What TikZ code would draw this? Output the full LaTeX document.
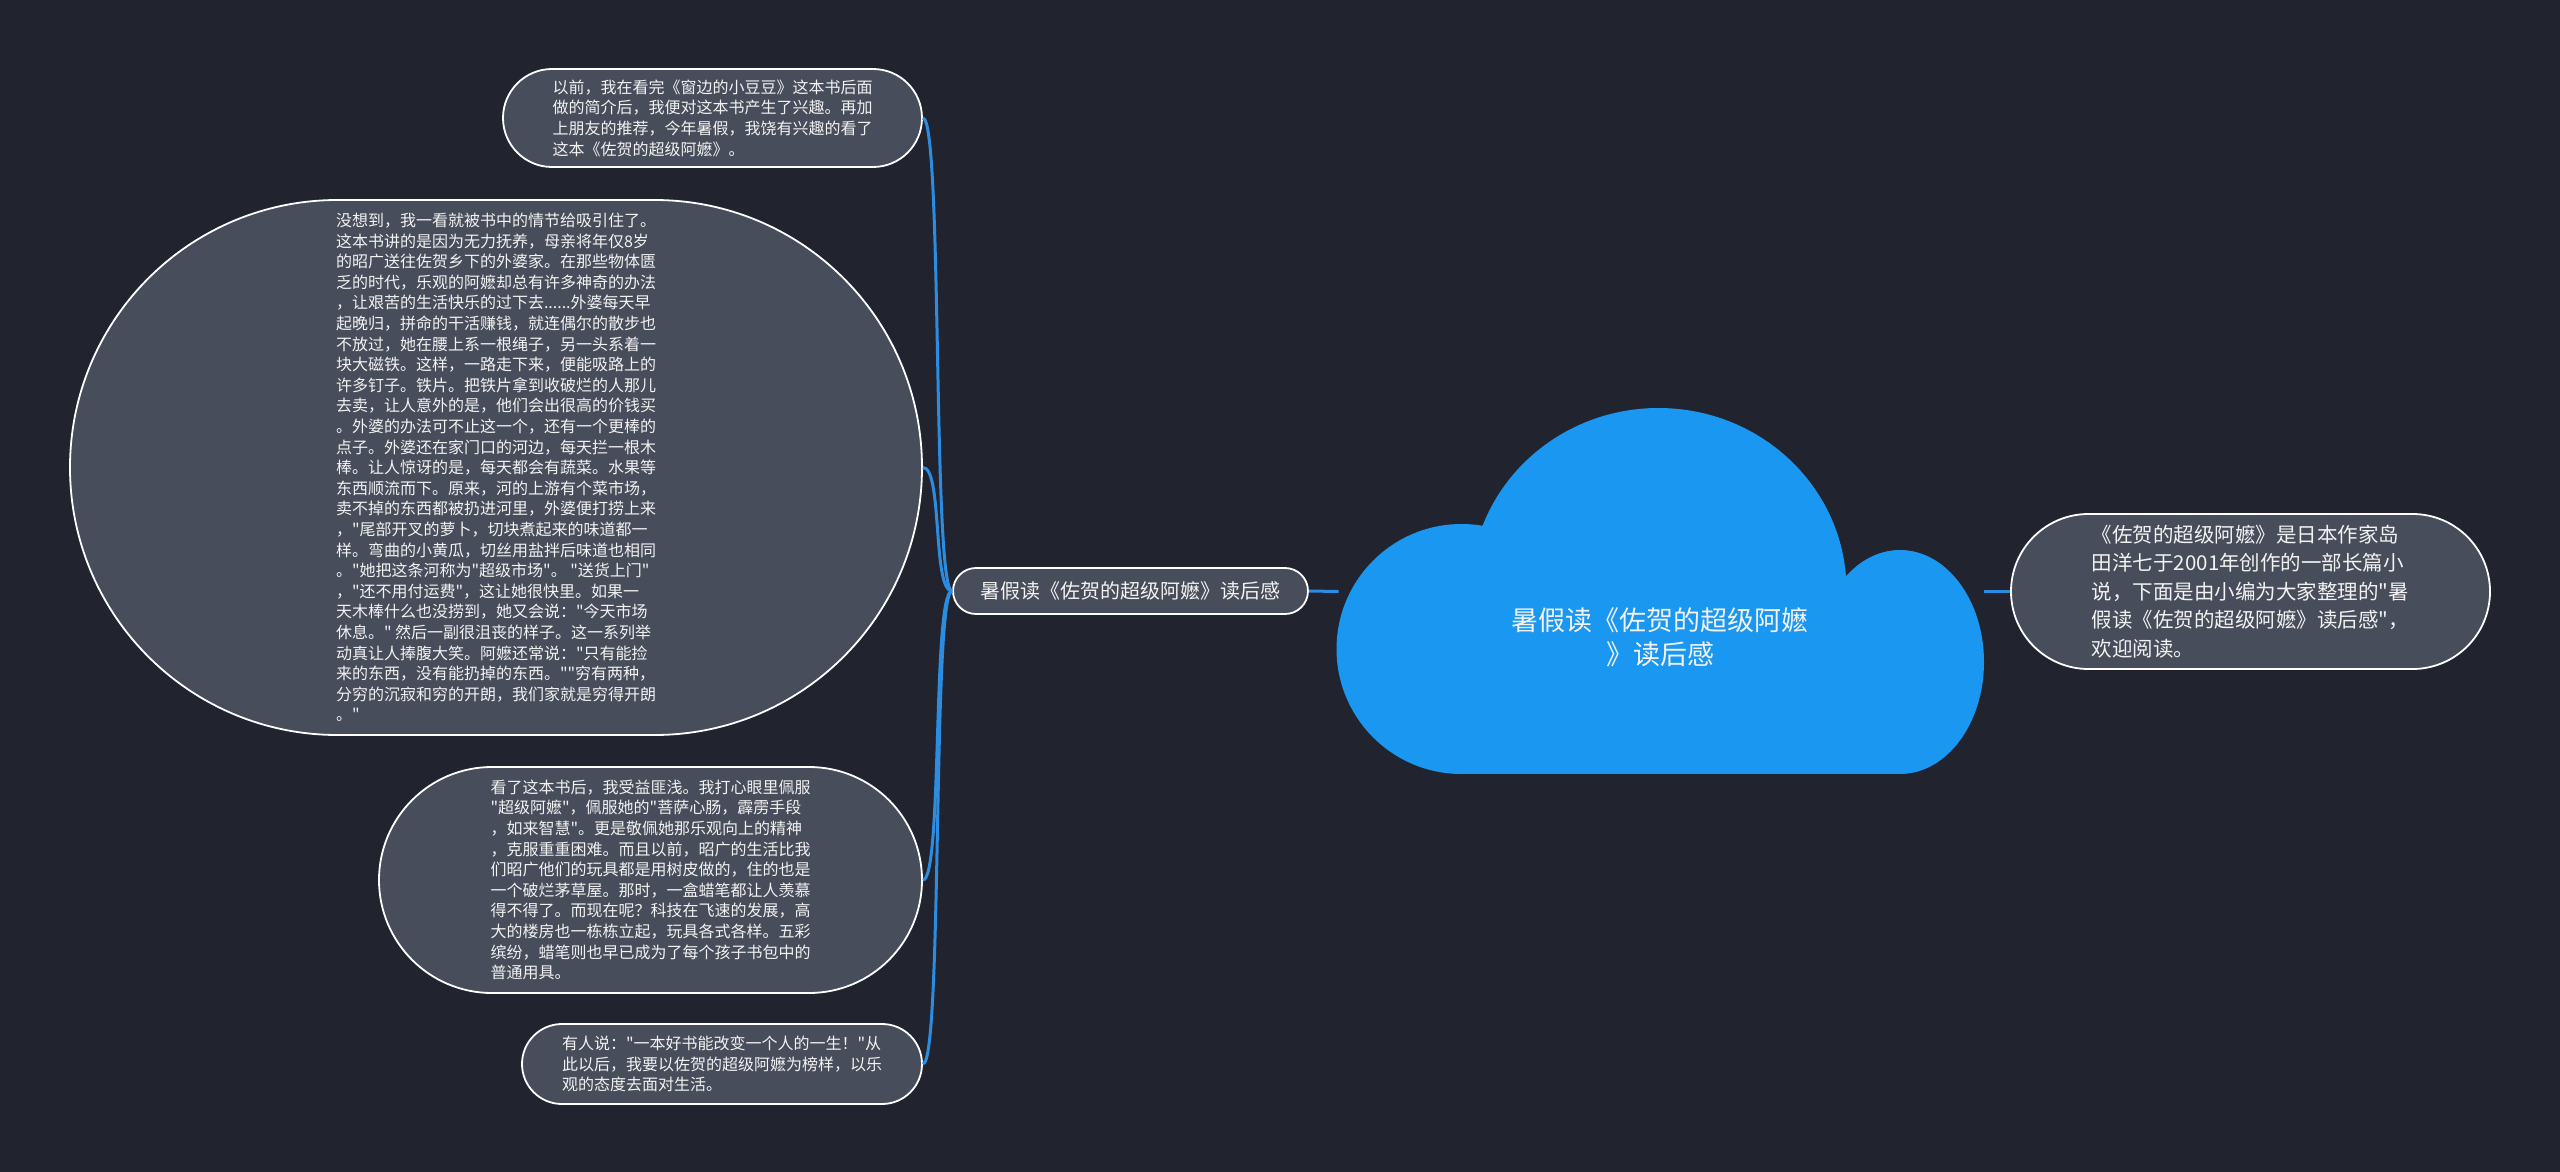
\documentclass[tikz,border=0pt]{standalone}
\usepackage{fontspec}
\setmainfont{Noto Sans CJK SC}[Ligatures=TeXOff]
\definecolor{bgdark}{HTML}{21242F}
\definecolor{bubblegray}{HTML}{484D5B}
\definecolor{cloudblue}{HTML}{1A97F0}
\definecolor{linkblue}{HTML}{2C8DE0}
\definecolor{textwhite}{HTML}{F2F2F2}

\begin{document}
\begin{tikzpicture}[x=0.5pt, y=0.5pt,
  bubble/.style={draw=white, fill=bubblegray, line width=0.9pt, text=textwhite, align=left, inner sep=0pt, font=\fontsize{8}{10.3}\selectfont},
  link/.style={line width=1.5pt, linkblue}]

\fill[bgdark] (0,0) rectangle (2560,-1172);
\useasboundingbox (0,0) rectangle (2560,-1172);

\node[minimum width=322.5pt, minimum height=183.5pt, inner sep=0pt] at (1661.5,-591.5) (cloud) {};
\fill[cloudblue] (1461.5,-649) circle[radius=62.5pt];
\fill[cloudblue] (1658.5,-590) ellipse[x radius=94pt, y radius=91pt];
\fill[cloudblue] (1900,-662) ellipse[x radius=42pt, y radius=56pt];
\fill[cloudblue] (1461.5,-774) rectangle (1900,-591.5);
\node[text=textwhite, align=center, font=\fontsize{13.5}{17}\selectfont] at (1660,-637) (title)
  {暑假读《佐贺的超级阿嬷\\》读后感};

\node[bubble, minimum width=177.5pt, minimum height=23pt, rounded corners=11.5pt, font=\fontsize{10}{12}\selectfont] at (1130.5,-591) (lbl)
  {暑假读《佐贺的超级阿嬷》读后感};

\node[bubble, minimum width=239.5pt, minimum height=77.5pt, rounded corners=38.75pt, font=\fontsize{10.25}{14.25}\selectfont] at (2250.5,-591.5) (intro)
  {《佐贺的超级阿嬷》是日本作家岛\\
   田洋七于2001年创作的一部长篇小\\
   说，下面是由小编为大家整理的"暑\\
   假读《佐贺的超级阿嬷》读后感"，\\
   欢迎阅读。};

\node[bubble, minimum width=209.5pt, minimum height=49pt, rounded corners=24.5pt] at (712.5,-118) (n1)
  {以前，我在看完《窗边的小豆豆》这本书后面\\
   做的简介后，我便对这本书产生了兴趣。再加\\
   上朋友的推荐，今年暑假，我饶有兴趣的看了\\
   这本《佐贺的超级阿嬷》。};

\node[bubble, minimum width=426pt, minimum height=267.5pt, rounded corners=133.75pt] at (496,-467.5) (n2)
  {没想到，我一看就被书中的情节给吸引住了。\\
   这本书讲的是因为无力抚养，母亲将年仅8岁\\
   的昭广送往佐贺乡下的外婆家。在那些物体匮\\
   乏的时代，乐观的阿嬷却总有许多神奇的办法\\
   ，让艰苦的生活快乐的过下去......外婆每天早\\
   起晚归，拼命的干活赚钱，就连偶尔的散步也\\
   不放过，她在腰上系一根绳子，另一头系着一\\
   块大磁铁。这样，一路走下来，便能吸路上的\\
   许多钉子。铁片。把铁片拿到收破烂的人那儿\\
   去卖，让人意外的是，他们会出很高的价钱买\\
   。外婆的办法可不止这一个，还有一个更棒的\\
   点子。外婆还在家门口的河边，每天拦一根木\\
   棒。让人惊讶的是，每天都会有蔬菜。水果等\\
   东西顺流而下。原来，河的上游有个菜市场，\\
   卖不掉的东西都被扔进河里，外婆便打捞上来\\
   ，"尾部开叉的萝卜，切块煮起来的味道都一\\
   样。弯曲的小黄瓜，切丝用盐拌后味道也相同\\
   。"她把这条河称为"超级市场"。 "送货上门"\\
   ，"还不用付运费"，这让她很快里。如果一\\
   天木棒什么也没捞到，她又会说："今天市场\\
   休息。" 然后一副很沮丧的样子。这一系列举\\
   动真让人捧腹大笑。阿嬷还常说："只有能捡\\
   来的东西，没有能扔掉的东西。""穷有两种，\\
   分穷的沉寂和穷的开朗，我们家就是穷得开朗\\
   。"};

\node[bubble, minimum width=271.5pt, minimum height=113pt, rounded corners=56.5pt] at (650.5,-880) (n3)
  {看了这本书后，我受益匪浅。我打心眼里佩服\\
   "超级阿嬷"，佩服她的"菩萨心肠，霹雳手段\\
   ，如来智慧"。更是敬佩她那乐观向上的精神\\
   ，克服重重困难。而且以前，昭广的生活比我\\
   们昭广他们的玩具都是用树皮做的，住的也是\\
   一个破烂茅草屋。那时，一盒蜡笔都让人羡慕\\
   得不得了。而现在呢？科技在飞速的发展，高\\
   大的楼房也一栋栋立起，玩具各式各样。五彩\\
   缤纷，蜡笔则也早已成为了每个孩子书包中的\\
   普通用具。};

\node[bubble, minimum width=200pt, minimum height=40pt, rounded corners=20pt] at (722,-1064) (n4)
  {有人说："一本好书能改变一个人的一生！"从\\
   此以后，我要以佐贺的超级阿嬷为榜样，以乐\\
   观的态度去面对生活。};

\draw[link] (lbl.west) .. controls +(-20,0) and +(20,0) .. (n1.east);
\draw[link] (lbl.west) .. controls +(-20,0) and +(20,0) .. (n2.east);
\draw[link] (lbl.west) .. controls +(-20,0) and +(20,0) .. (n3.east);
\draw[link] (lbl.west) .. controls +(-20,0) and +(20,0) .. (n4.east);
\draw[link] (lbl.east)--(cloud.west); \draw[link] (cloud.east)--(intro.west);
\end{tikzpicture}
\end{document}
